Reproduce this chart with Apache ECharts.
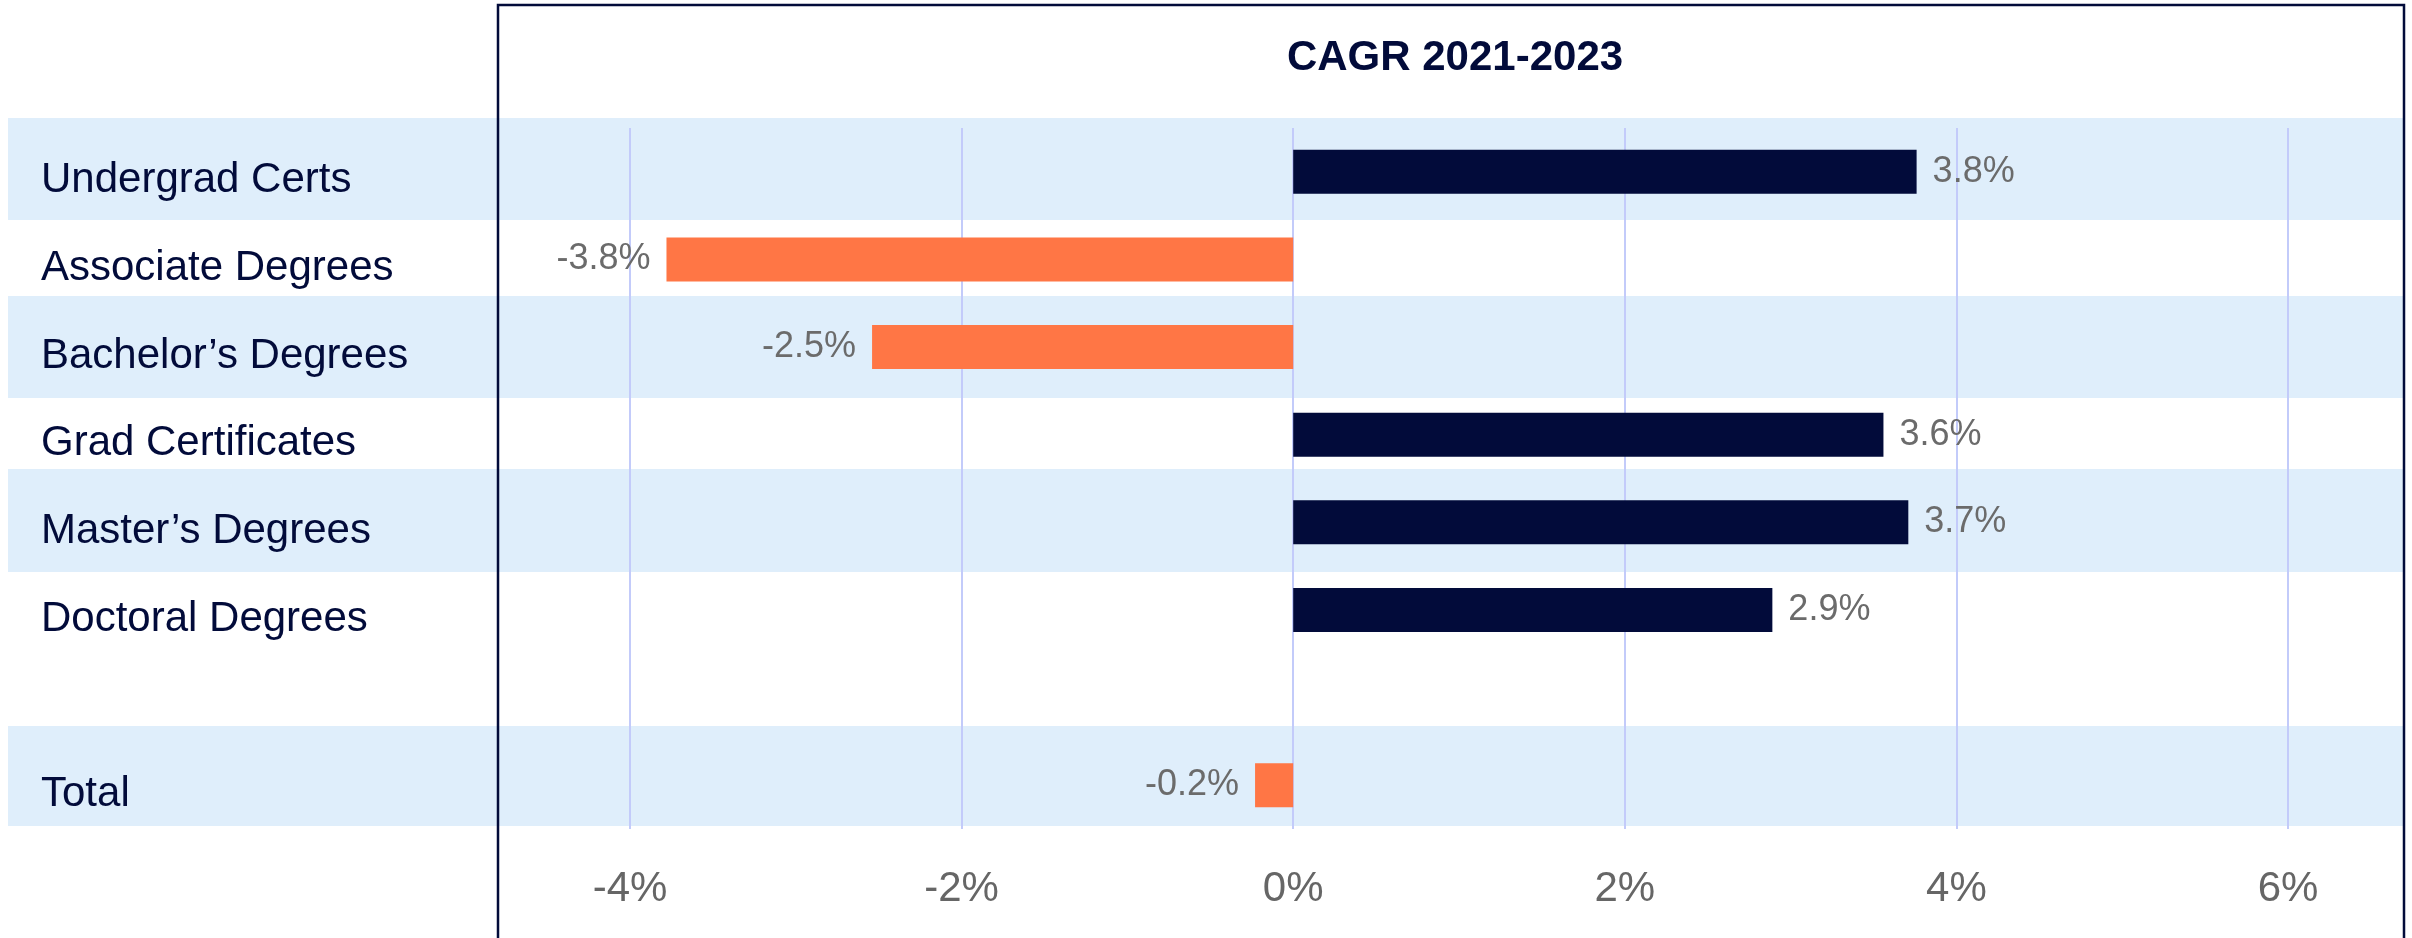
<!DOCTYPE html>
<html>
<head>
<meta charset="utf-8">
<title>CAGR 2021-2023</title>
<script src="https://cdn.jsdelivr.net/npm/echarts@6/dist/echarts.min.js"></script>
<style>
  html, body { margin: 0; padding: 0; background: #fff; }
  #chart { width: 2412px; height: 938px; }
</style>
</head>
<body>
<div id="chart"></div>
<script>
// data
const categories = ['Undergrad Certs', 'Associate Degrees', 'Bachelor’s Degrees', 'Grad Certificates', 'Master’s Degrees', 'Doctoral Degrees', '', 'Total']
const cagrValues = [3.76, -3.78, -2.54, 3.56, 3.71, 2.89, null, -0.23]
const axisTicks = [-4, -2, 0, 2, 4, 6]

const NAVY = '#020b3a'
const ORANGE = '#ff7645'
const BAND = '#dfeefb'
const FONT = '"Liberation Sans", Arial, sans-serif'

// striped table background behind the rows
const bandRows = [[118, 220], [296, 398], [469, 572], [726, 826]]

let chart = echarts.init(document.getElementById('chart'))

let barData = cagrValues.map(v => {
  if (v == null) return '-'
  return {
    value: v,
    itemStyle: { color: v < 0 ? ORANGE : NAVY },
    label: { position: v < 0 ? 'left' : 'right' }
  }
})

let graphics = bandRows.map(r => ({
  type: 'rect',
  z: -10,
  silent: true,
  shape: { x: 8, y: r[0], width: 2396, height: r[1] - r[0] },
  style: { fill: BAND }
}))
graphics.push({
  type: 'rect',
  z: 100,
  silent: true,
  shape: { x: 498, y: 5, width: 1906, height: 1000 },
  style: { fill: 'none', stroke: NAVY, lineWidth: 2.5 }
})

chart.setOption({
  animation: false,
  backgroundColor: '#fff',
  title: {
    text: 'CAGR 2021-2023',
    left: 1450,
    top: 32,
    textAlign: 'center',
    textStyle: { fontFamily: FONT, fontSize: 42, fontWeight: 'bold', color: NAVY }
  },
  graphic: graphics,
  grid: {
    left: 630,
    right: 124,
    top: 128,
    bottom: 109,
    containLabel: false
  },
  xAxis: {
    type: 'value',
    min: axisTicks[0],
    max: axisTicks[axisTicks.length - 1],
    interval: 2,
    axisLine: { show: false },
    axisTick: { show: false },
    splitLine: { show: true, lineStyle: { color: '#c3cbfa', width: 2 } },
    axisLabel: {
      margin: 39,
      fontFamily: FONT,
      fontSize: 42,
      color: '#666666',
      formatter: v => v + '%'
    }
  },
  yAxis: {
    type: 'category',
    inverse: true,
    data: categories,
    axisLine: { show: false, onZero: false },
    axisTick: { show: false },
    splitLine: { show: false },
    axisLabel: {
      align: 'left',
      margin: 589,
      formatter: v => '{l|' + v + '}',
      rich: {
        l: {
          padding: [18, 0, 0, 0],
          fontFamily: FONT,
          fontSize: 42,
          color: NAVY
        }
      }
    }
  },
  series: [
    {
      type: 'bar',
      barWidth: 44,
      data: barData,
      label: {
        show: true,
        distance: 16,
        fontFamily: FONT,
        fontSize: 36,
        color: '#6b6b6b',
        formatter: p => p.value.toFixed(1) + '%'
      }
    }
  ]
})
</script>
</body>
</html>
